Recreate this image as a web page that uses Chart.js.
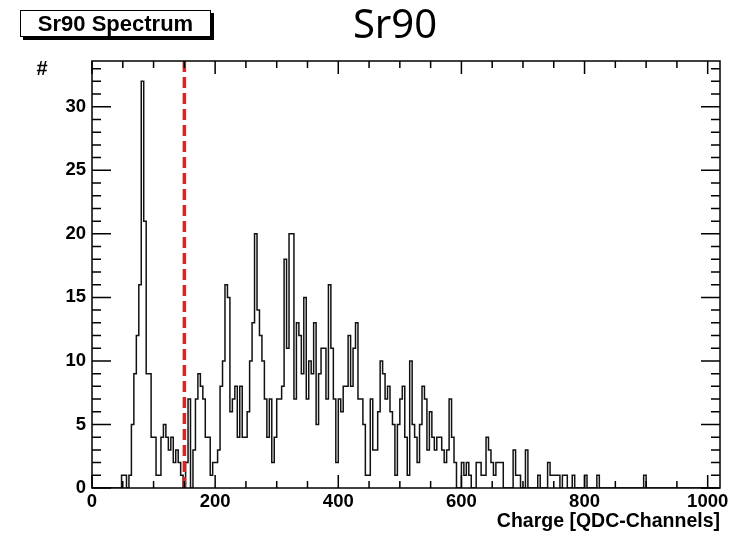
<!DOCTYPE html>
<html>
<head>
<meta charset="utf-8">
<script src="https://cdn.jsdelivr.net/npm/chart.js@4.4.1/dist/chart.umd.min.js"></script>
<style>
  html, body { margin: 0; padding: 0; background: #fff; }
  #wrap { position: relative; width: 740px; height: 534px; }
  #plot { position: absolute; left: 0; top: 0; }
  .statbox {
    position: absolute; left: 20px; top: 10px; width: 189px; height: 25px;
    border: 1.5px solid #000; background: #fff; box-shadow: 3px 3px 0 #000;
    font: bold 22px "Liberation Sans", Arial, sans-serif; line-height: 25px;
    text-align: center; color: #000;
  }
  .bigtitle {
    position: absolute; left: 295px; top: 3px; width: 200px; text-align: center;
    font: 40px "Noto Sans", sans-serif; line-height: 40px; color: #000;
  }
  .ylab {
    position: absolute; left: 32px; top: 57px; width: 20px; text-align: center;
    font: bold 20px "Liberation Sans", Arial, sans-serif; line-height: 22px;
  }
</style>
</head>
<body>
<div id="wrap">
  <canvas id="plot" width="740" height="534"></canvas>
  <div class="statbox">Sr90 Spectrum</div>
  <div class="bigtitle">Sr90</div>
  <div class="ylab">#</div>
</div>
<script>
// histogram: 255 bins of 4 QDC channels, 0..1020
const binWidth = 4;
const counts = [
  0, 0, 0, 0, 0, 0, 0, 0, 0, 0,
  0, 0, 1, 1, 0, 1, 5, 9, 12, 16,
  32, 21, 9, 9, 4, 4, 1, 1, 4, 5,
  4, 3, 4, 2, 3, 2, 1, 0, 2, 7,
  0, 3, 7, 9, 8, 7, 4, 4, 1, 2,
  2, 3, 8, 10, 16, 15, 6, 7, 8, 4,
  8, 4, 4, 6, 10, 13, 20, 14, 12, 10,
  7, 4, 7, 2, 4, 7, 7, 8, 18, 11,
  20, 20, 7, 13, 12, 9, 15, 7, 10, 9,
  13, 5, 9, 11, 11, 7, 16, 11, 7, 2,
  7, 6, 8, 8, 12, 8, 11, 13, 7, 7,
  5, 1, 1, 7, 3, 3, 6, 10, 9, 7,
  8, 6, 5, 1, 5, 7, 8, 4, 1, 10,
  5, 4, 2, 5, 8, 7, 3, 6, 4, 3,
  4, 4, 3, 2, 3, 7, 4, 2, 0, 0,
  2, 1, 2, 1, 0, 0, 2, 2, 1, 1,
  4, 3, 2, 1, 2, 2, 2, 0, 0, 0,
  0, 3, 1, 1, 0, 0, 3, 0, 0, 0,
  0, 1, 0, 0, 0, 2, 1, 1, 1, 1,
  0, 1, 1, 0, 0, 1, 0, 0, 0, 0,
  1, 0, 0, 0, 0, 1, 0, 0, 0, 0,
  0, 0, 0, 0, 0, 0, 0, 0, 0, 0,
  0, 0, 0, 0, 1, 0, 0, 0, 0, 0,
  0, 0, 0, 0, 0, 0, 0, 0, 0, 0,
  0, 0, 0, 0, 0, 0, 0, 0, 0, 0,
  0, 0, 0, 0, 0
];
const xTicks = [0, 200, 400, 600, 800, 1000];
const yTicks = [0, 5, 10, 15, 20, 25, 30];
const xMinorStep = 50;
const yMinorStep = 1;
const xMax = 1020;
const yMax = 33.6;
const cutValue = 150; // red threshold line

// step outline: one point per left bin edge + closing right edge
const histPoints = counts.map((c, i) => ({ x: i * binWidth, y: c }));
histPoints.push({ x: counts.length * binWidth, y: counts[counts.length - 1] });

// inward ROOT-style ticks on all four sides + frame
const rootFrame = {
  id: 'rootFrame',
  afterDatasetsDraw(chart) {
    const { ctx, chartArea: a, scales: { x, y } } = chart;
    ctx.save();
    ctx.strokeStyle = '#000';
    ctx.lineWidth = 1.5;
    ctx.beginPath();
    for (let v = 0; v <= xMax; v += xMinorStep) {
      const px = x.getPixelForValue(v);
      const len = xTicks.includes(v) ? 13 : 7;
      ctx.moveTo(px, a.bottom); ctx.lineTo(px, a.bottom - len);
      ctx.moveTo(px, a.top); ctx.lineTo(px, a.top + len);
    }
    for (let v = 0; v <= yMax; v += yMinorStep) {
      const py = y.getPixelForValue(v);
      const len = yTicks.includes(v) ? 19 : 9;
      ctx.moveTo(a.left, py); ctx.lineTo(a.left + len, py);
      ctx.moveTo(a.right, py); ctx.lineTo(a.right - len, py);
    }
    ctx.stroke();
    ctx.strokeRect(a.left, a.top, a.right - a.left, a.bottom - a.top);
    ctx.restore();
  }
};

const tickFont = { family: '"Liberation Sans", Arial, sans-serif', size: 18.5, weight: 'bold' };

new Chart(document.getElementById('plot'), {
  type: 'line',
  data: {
    datasets: [
      {
        data: [{ x: cutValue, y: 0 }, { x: cutValue, y: yMax }],
        borderColor: '#e8201c',
        borderWidth: 3.5,
        borderDash: [11, 5],
        pointRadius: 0,
        order: 0
      },
      {
        data: histPoints,
        borderColor: '#111',
        borderWidth: 1.5,
        stepped: 'before',
        pointRadius: 0,
        fill: false,
        order: 1
      }
    ]
  },
  options: {
    responsive: false,
    animation: false,
    layout: { padding: { top: 61, right: 20, left: 0, bottom: 0 } },
    plugins: { legend: { display: false }, tooltip: { enabled: false } },
    scales: {
      x: {
        type: 'linear',
        min: 0,
        max: xMax,
        afterBuildTicks: (s) => { s.ticks = xTicks.map(v => ({ value: v })); },
        afterFit: (s) => { s.height = 46; },
        grid: { display: false, drawTicks: false },
        border: { display: false },
        ticks: { font: tickFont, color: '#000', padding: 3, maxRotation: 0, autoSkip: false, callback: (v) => String(v) },
        title: {
          display: true,
          text: 'Charge [QDC-Channels]',
          align: 'end',
          color: '#000',
          font: { family: '"Liberation Sans", Arial, sans-serif', size: 19.5, weight: 'bold' },
          padding: { top: 0, bottom: 1 }
        }
      },
      y: {
        min: 0,
        max: yMax,
        afterBuildTicks: (s) => { s.ticks = yTicks.map(v => ({ value: v })); },
        afterFit: (s) => { s.width = 92; },
        grid: { display: false, drawTicks: false },
        border: { display: false },
        ticks: { font: tickFont, color: '#000', padding: 6, autoSkip: false, callback: (v) => String(v) }
      }
    }
  },
  plugins: [rootFrame]
});
</script>
</body>
</html>
